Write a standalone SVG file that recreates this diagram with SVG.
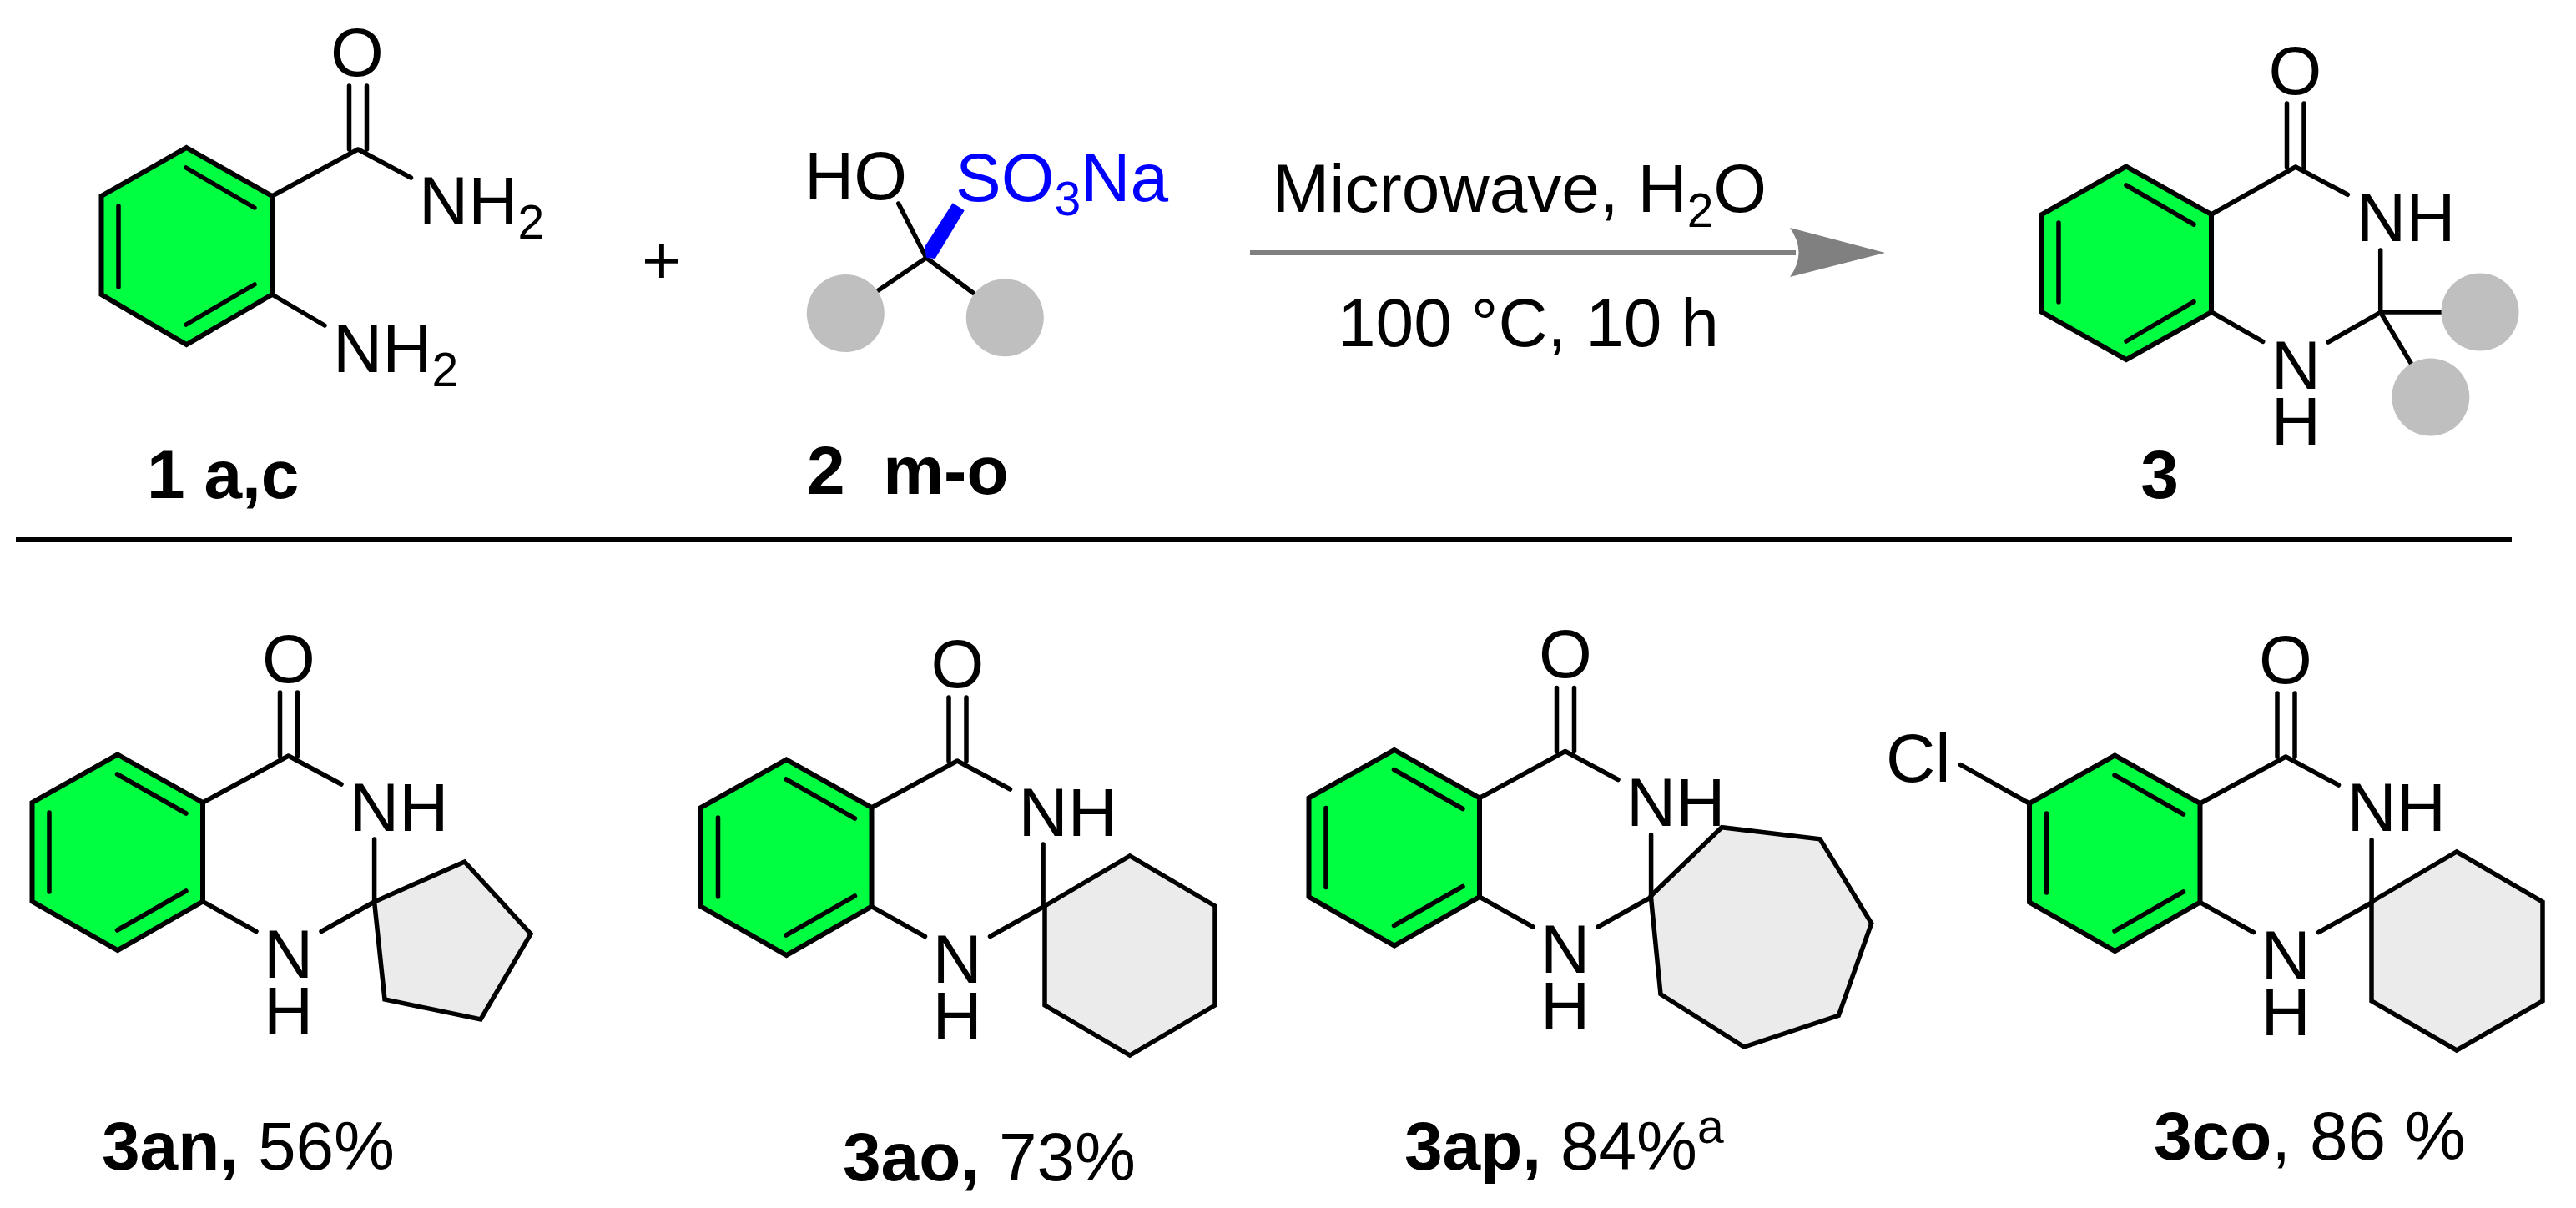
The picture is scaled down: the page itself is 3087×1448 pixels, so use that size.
<svg xmlns="http://www.w3.org/2000/svg" width="3087" height="1448" viewBox="0 0 3087 1448">
<style>
text{font-family:"Liberation Sans",Arial,sans-serif;font-size:82px;fill:#000;white-space:pre}
.b{font-weight:bold}
.m{text-anchor:middle}
.s{font-size:57px}
.blue,.blue tspan{fill:#0000ff}
.ring{fill:#00ff41;stroke:#000;stroke-width:6;stroke-linejoin:miter}
.bond{fill:none;stroke:#000;stroke-width:5.5;stroke-linecap:round;stroke-linejoin:round}
.sat{fill:#ebebeb;stroke:#000;stroke-width:5.5;stroke-linejoin:miter}
.r{fill:#bfbfbf}
</style>
<defs>
<g id="core">
<polygon class="ring" points="141,904.5 243,962 243,1080.6 141,1139 38.5,1080.6 38.5,962"/>
<path class="bond" d="M140.5 928L223 975M59 974V1069M223 1068L140.5 1115M243 962L345.7 906L409 940M335.5 830V906M356.5 830V906M448.6 1006V1081L385 1116.5M243 1080.6L307 1116.5"/>
</g>
</defs>
<rect width="3087" height="1448" fill="#fff"/>
<g id="compound-1">
<polygon class="ring" points="223.5,177 326,235 326,353 223.5,413 121.5,353 121.5,235"/>
<path class="bond" d="M223 201L305 249M142 247V344M305 341L223 389M326 235L429 179L492.5 213M418.5 103V179M439.5 103V179M326 353L389 390"/>
<text class="m" x="428" y="91">O</text>
<text x="502" y="268.5">NH<tspan class="s" dy="17">2</tspan></text>
<text x="399" y="445.5">NH<tspan class="s" dy="17">2</tspan></text>
<text class="b" x="176" y="597">1 a,c</text>
</g>
<g id="plus"><text class="m" x="793" y="340">+</text></g>
<g id="compound-2">
<path class="bond" d="M1076.7 244L1110 309M1052.7 348L1110 309L1167 351.7"/>
<polygon points="1141.7,243.3 1155.7,252.3 1120.7,310 1110,309 1108,296" fill="#0000ff"/>
<circle class="r" cx="1013.3" cy="375.5" r="46.5"/>
<circle class="r" cx="1204.3" cy="380.7" r="46.5"/>
<text x="964" y="239">HO</text>
<text class="blue" x="1145" y="241">SO<tspan class="s" dy="17">3</tspan><tspan dy="-17">Na</tspan></text>
<text class="b" x="967" y="591.5">2  m-o</text>
</g>
<g id="connectors">
<path d="M1498 303H2152" fill="none" stroke="#808080" stroke-width="6"/>
<path d="M2145 273L2259 303L2145 332Q2166 303 2145 273Z" fill="#808080"/>
</g>
<g id="conditions">
<text x="1525" y="254">Microwave, H<tspan class="s" dy="18">2</tspan><tspan dy="-18">O</tspan></text>
<text x="1603" y="415">100 °C, 10 h</text>
</g>
<g id="compound-3">
<polygon class="ring" points="2548,199.5 2650,257 2650,374 2548,431 2447,374 2447,257"/>
<path class="bond" d="M2548 222L2629 269M2467 267V362M2629 361.7L2548 409M2650 257L2751 200L2813.3 233.3M2740.5 124V200M2761 124V200M2852.7 300V374.3L2790 410M2852.7 374.3L2889 435M2650 374L2711.7 409.3M2852.7 374H2927"/>
<circle class="r" cx="2972" cy="374" r="46.5"/>
<circle class="r" cx="2912.8" cy="476" r="46.5"/>
<text class="m" x="2750.5" y="113">O</text>
<text x="2824" y="289.3">NH</text>
<text class="m" x="2751.3" y="465.7">N</text>
<text class="m" x="2751.3" y="533.3">H</text>
<text class="b m" x="2588" y="597">3</text>
</g>
<path id="divider" d="M19 647H3010" stroke="#000" stroke-width="6" fill="none"/>
<g id="compound-3an">
<polygon class="sat" points="448.6,1081 556.7,1033 636,1119.4 576,1222 461,1198"/>
<use href="#core"/>
<text class="m" x="346" y="817.5">O</text>
<text x="419" y="996">NH</text>
<text class="m" x="345.5" y="1171.6">N</text>
<text class="m" x="345.5" y="1239.8">H</text>
<text x="122" y="1402"><tspan class="b">3an,</tspan> 56%</text>
</g>
<g id="compound-3ao">
<polygon class="sat" points="1252,1086 1354,1026 1456,1086 1456,1205 1354,1265 1252,1205"/>
<use href="#core" x="801.5" y="6"/>
<text class="m" x="1147.5" y="823.5">O</text>
<text x="1220.5" y="1002">NH</text>
<text class="m" x="1147" y="1177.6">N</text>
<text class="m" x="1147" y="1245.8">H</text>
<text x="1010" y="1415"><tspan class="b">3ao,</tspan> 73%</text>
</g>
<g id="compound-3ap">
<polygon class="sat" points="1978.3,1074 2063.3,991.7 2181,1005.7 2242.7,1106.7 2203.3,1217.3 2090,1255 1990,1191.7"/>
<use href="#core" x="1530" y="-5.5"/>
<text class="m" x="1876" y="812">O</text>
<text x="1949" y="990">NH</text>
<text class="m" x="1875.5" y="1166">N</text>
<text class="m" x="1875.5" y="1234.3">H</text>
<text x="1683" y="1402"><tspan class="b">3ap,</tspan> 84%<tspan class="s" dy="-32">a</tspan></text>
</g>
<g id="compound-3co">
<polygon class="sat" points="2842,1081 2944,1021 3047,1081 3047,1200 2944,1259 2842,1200"/>
<use href="#core" x="2393.5" y="1"/>
<path class="bond" d="M2349.4 916.6L2432 963"/>
<text x="2260" y="936.5">Cl</text>
<text class="m" x="2739" y="818.5">O</text>
<text x="2812.5" y="996">NH</text>
<text class="m" x="2739" y="1172.6">N</text>
<text class="m" x="2739" y="1240.8">H</text>
<text x="2581" y="1389.5"><tspan class="b">3co</tspan>, 86 %</text>
</g>
</svg>
